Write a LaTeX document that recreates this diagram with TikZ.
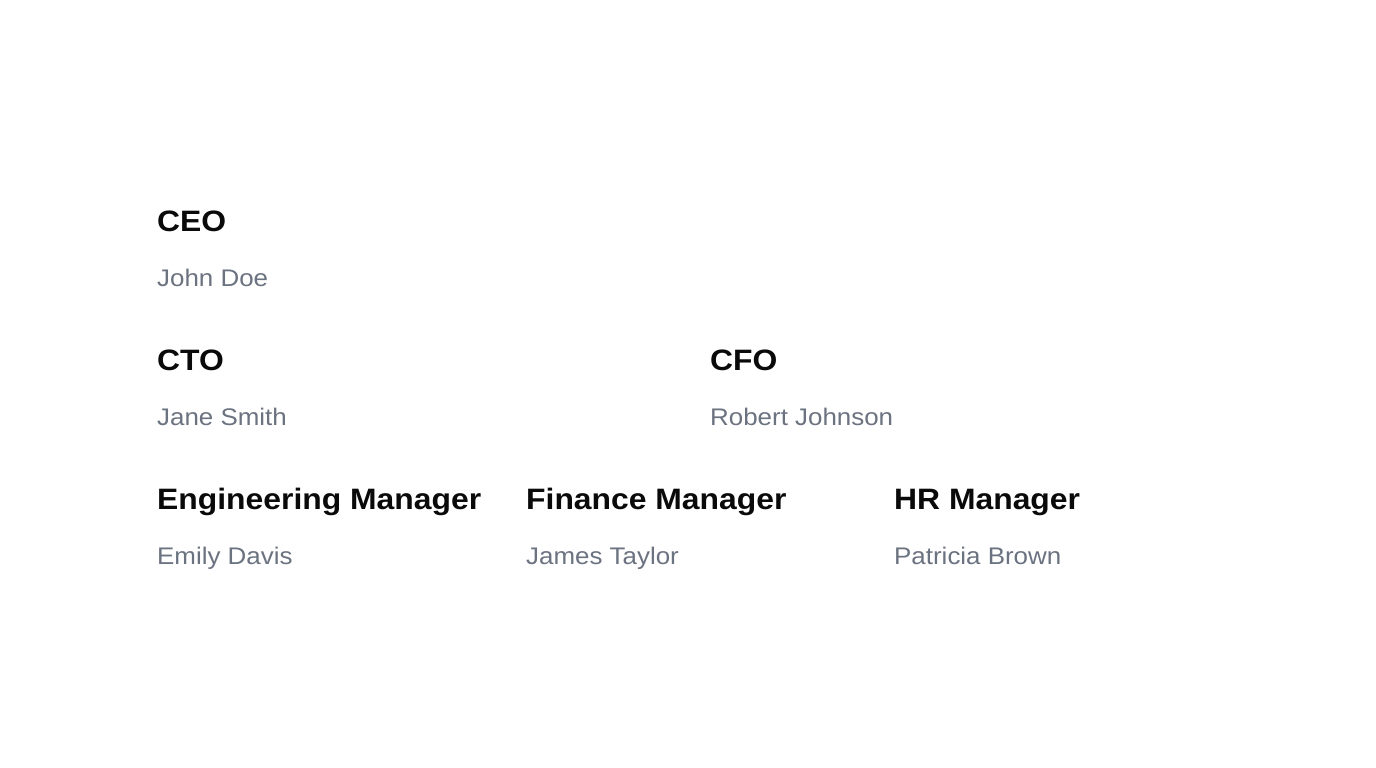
\documentclass[tikz,border=0pt]{standalone}
\usepackage{fontspec}
\setmainfont[FakeStretch=1.08]{Liberation Sans}
\definecolor{titlecol}{HTML}{0A0A0A}
\definecolor{namecol}{HTML}{6B7280}
\tikzset{
  roletitle/.style={anchor=base west, inner sep=0pt, text=titlecol, font=\fontsize{29.5}{34}\selectfont\bfseries},
  rolename/.style={anchor=base west, inner sep=0pt, text=namecol, font=\fontsize{24}{28}\selectfont},
}
\begin{document}
\begin{tikzpicture}[x=1pt,y=-1pt]
\useasboundingbox[fill=white] (0,0) rectangle (1376,768);
\node[roletitle] (ceo) at (157,231) {CEO};
\node[rolename] (ceoname) at (157,286) {John Doe};
\node[roletitle] (cto) at (157,370) {CTO};
\node[rolename] (ctoname) at (157,425) {Jane Smith};
\node[roletitle] (cfo) at (710,370) {CFO};
\node[rolename] (cfoname) at (710,425) {Robert Johnson};
\node[roletitle] (eng) at (157,509) {Engineering Manager};
\node[rolename] (engname) at (157,564) {Emily Davis};
\node[roletitle] (fin) at (526,509) {Finance Manager};
\node[rolename] (finname) at (526,564) {James Taylor};
\node[roletitle] (hr) at (894,509) {HR Manager};
\node[rolename] (hrname) at (894,564) {Patricia Brown};
\end{tikzpicture}
\end{document}
